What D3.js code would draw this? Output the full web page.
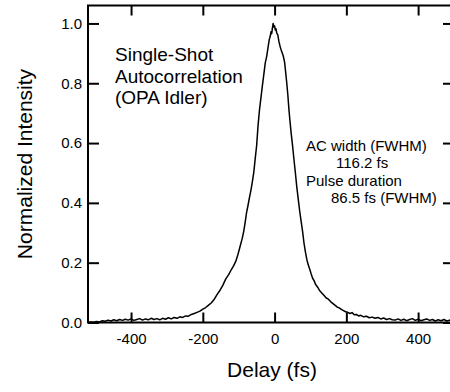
<!DOCTYPE html>
<html>
<head>
<meta charset="utf-8">
<script src="https://cdn.jsdelivr.net/npm/d3@7"></script>
<style>
  body { margin: 0; background: #fff; }
  svg text { font-family: "Liberation Sans", Arial, sans-serif; fill: #000; }
  .axis path { display: none; }
  .axis line { stroke: #000; stroke-width: 2; }
  .axis text { font-size: 15px; }
</style>
</head>
<body>
<svg id="acChart" width="450" height="392"></svg>
<script>
// values
const delayFs = [-520,-512,-504,-496,-488,-480,-472,-464,-456,-448,-440,-432,-424,-416,-408,-400,
  -392,-384,-376,-368,-360,-352,-344,-336,-328,-320,-312,-304,-296,-288,-280,-272,-264,-256,
  -248,-240,-232,-224,-216,-208,-200,-192,-184,-176,-168,-160,-152,-144,-136,-128,-120,-114,
  -108,-102,-96,-90,-86,-82,-78,-74,-70,-66,-62,-58,-54,-50,-46,-42,-38,-34,-30,-26,-22,-18,
  -15,-12,-10,-8,-6,-4,-2,0,2,4,6,9,12,16,20,24,28,31,34,37,40,43,46,50,54,58,62,66,70,74,78,
  82,86,90,94,98,102,106,110,114,120,126,132,138,144,150,156,162,168,174,180,186,192,198,204,
  210,216,222,228,234,240,248,256,264,272,280,288,296,304,312,320,328,336,344,352,360,368,376,
  384,392,400,408,416,424,432,440,448,456,464,472,480,488,496,500];

const intensity = [0.001,0.002,0.001,0.003,0.002,0.006,0.004,0.008,0.005,0.009,0.006,0.010,0.007,0.011,0.008,0.012,
  0.007,0.010,0.013,0.008,0.012,0.009,0.014,0.010,0.013,0.009,0.014,0.011,0.016,0.012,0.017,0.014,0.019,0.017,
  0.022,0.021,0.027,0.030,0.034,0.038,0.045,0.050,0.058,0.066,0.078,0.094,0.108,0.125,0.146,0.160,0.178,0.190,
  0.205,0.228,0.255,0.282,0.305,0.335,0.368,0.392,0.418,0.442,0.470,0.502,0.548,0.592,0.660,0.712,0.752,0.792,0.830,0.868,0.890,0.922,
  0.945,0.958,0.972,0.966,0.985,1.000,0.988,0.992,0.978,0.982,0.968,0.962,0.940,0.920,0.905,0.892,0.870,0.835,0.800,0.760,0.712,0.672,0.635,0.592,0.545,0.500,0.452,0.412,0.372,0.338,0.305,
  0.265,0.235,0.210,0.192,0.178,0.162,0.148,0.140,0.128,0.118,0.106,0.098,0.090,0.082,0.078,0.070,0.064,0.058,0.052,0.049,0.044,0.040,0.036,0.034,
  0.030,0.033,0.026,0.027,0.022,0.024,0.019,0.021,0.016,0.018,0.014,0.017,0.012,0.015,0.010,0.013,0.009,0.008,0.012,0.007,0.011,0.006,0.010,
  0.013,0.007,0.011,0.006,0.009,0.012,0.007,0.010,0.005,0.009,0.006,0.010,0.005,0.008,0.004,0.007];

const xTicks = [-400, -200, 0, 200, 400];
const yTicks = [0, 0.2, 0.4, 0.6, 0.8, 1.0];
const titleLines = ["Single-Shot", "Autocorrelation", "(OPA Idler)"];
const resultLines = ["AC width (FWHM)", "116.2 fs", "Pulse duration", "86.5 fs (FWHM)"];

const svg = d3.select("#acChart");
const box = {left: 88, right: 454, top: 5.5, bottom: 322.5};

const xScale = d3.scaleLinear().domain([-520, 500]).range([box.left, box.right]);
const yScale = d3.scaleLinear().domain([0, 1.06]).range([box.bottom, box.top]);

svg.append("defs").append("clipPath").attr("id", "plotClip")
   .append("rect")
   .attr("x", box.left).attr("y", box.top)
   .attr("width", box.right - box.left).attr("height", box.bottom - box.top);

// the curve
const points = delayFs.map((d, i) => ({x: d, y: intensity[i]}));
const lineGen = d3.line().x(d => xScale(d.x)).y(d => yScale(d.y));
svg.append("path")
   .attr("d", lineGen(points))
   .attr("clip-path", "url(#plotClip)")
   .attr("fill", "none")
   .attr("stroke", "#000")
   .attr("stroke-width", 1.5)
   .attr("stroke-linejoin", "round");

// axes, ticks inward on all four sides (plain hyphen for negatives)
svg.append("g").attr("class", "axis")
   .attr("transform", `translate(0,${box.bottom})`)
   .call(d3.axisBottom(xScale).tickValues(xTicks).tickSize(-10).tickSizeOuter(0).tickPadding(11)
         .tickFormat(d => String(d)));
svg.append("g").attr("class", "axis")
   .attr("transform", `translate(0,${box.top})`)
   .call(d3.axisTop(xScale).tickValues(xTicks).tickSize(-10).tickSizeOuter(0).tickFormat(""));
svg.append("g").attr("class", "axis")
   .attr("transform", `translate(${box.left},0)`)
   .call(d3.axisLeft(yScale).tickValues(yTicks).tickSize(-11).tickSizeOuter(0).tickPadding(6)
         .tickFormat(d => d.toFixed(1)));
svg.append("g").attr("class", "axis")
   .attr("transform", `translate(${box.right},0)`)
   .call(d3.axisRight(yScale).tickValues(yTicks).tickSize(-11).tickSizeOuter(0).tickFormat(""));

svg.append("rect")
   .attr("x", box.left).attr("y", box.top)
   .attr("width", box.right - box.left).attr("height", box.bottom - box.top)
   .attr("fill", "none").attr("stroke", "#000").attr("stroke-width", 2);

// axis titles
svg.append("text")
   .attr("x", 272).attr("y", 377)
   .attr("text-anchor", "middle")
   .style("font-size", "21px")
   .text("Delay (fs)");
svg.append("text")
   .attr("transform", `translate(32,${(box.top + box.bottom) / 2}) rotate(-90)`)
   .attr("text-anchor", "middle")
   .style("font-size", "21px")
   .text("Normalized Intensity");

// annotations
titleLines.forEach((t, i) => {
  svg.append("text")
     .attr("x", 115).attr("y", 61 + i * 21.5)
     .style("font-size", "19px")
     .text(t);
});

const resultX = [306, 336, 306, 331];
resultLines.forEach((t, i) => {
  svg.append("text")
     .attr("x", resultX[i]).attr("y", 151 + i * 17.3)
     .style("font-size", "15px")
     .text(t);
});
</script>
</body>
</html>
